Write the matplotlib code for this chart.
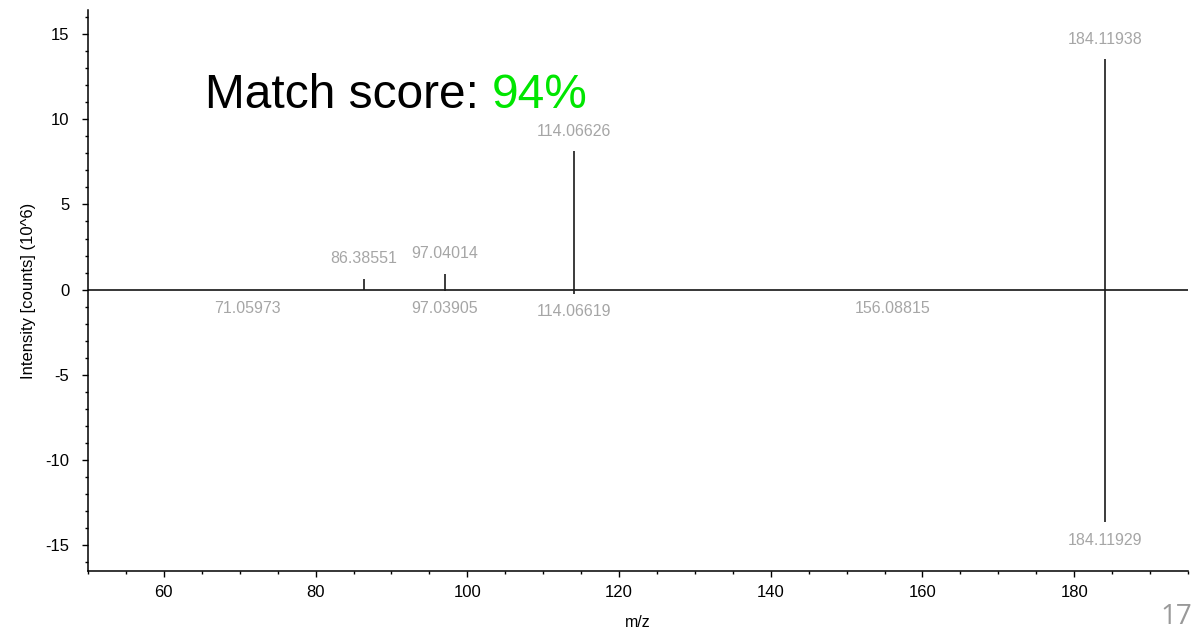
import matplotlib
matplotlib.use("Agg")
import matplotlib.pyplot as plt
from matplotlib.ticker import MultipleLocator

plt.rcParams['font.family'] = ['Liberation Sans', 'DejaVu Sans']
plt.rcParams['axes.unicode_minus'] = False

# Experimental spectrum (upper, positive) and library spectrum (lower, negative)
top_mz = [86.38551, 97.04014, 114.06626, 184.11938]
top_int = [0.63, 0.94, 8.12, 13.53]          # counts x 10^6

bottom_mz = [71.05973, 97.03905, 114.06619, 156.08815, 184.11929]
bottom_int = [-0.03, -0.05, -0.25, -0.03, -13.65]  # counts x 10^6

match_score = 94
page_number = "17"

fig = plt.figure(figsize=(11.99, 6.30), dpi=100)
ax = fig.add_axes([0.0734, 0.0937, 0.9174, 0.8903])

label_color = '#a6a6a6'
stem_color = '#1a1a1a'

ax.axhline(0, color='black', lw=1.1, zorder=2)
ax.vlines(top_mz, 0, top_int, color=stem_color, lw=1.2, zorder=3)
ax.vlines(bottom_mz, 0, bottom_int, color=stem_color, lw=1.2, zorder=3)

for mz, val in zip(top_mz, top_int):
    ax.annotate(f"{mz:.5f}", (mz, val), xytext=(0, 20), textcoords='offset pixels',
                ha='center', va='center', color=label_color, fontsize=11.5)
for mz, val in zip(bottom_mz, bottom_int):
    ax.annotate(f"{mz:.5f}", (mz, val), xytext=(0, -18), textcoords='offset pixels',
                ha='center', va='center', color=label_color, fontsize=11.5)

ax.set_xlim(50, 195)
ax.set_ylim(-16.5, 16.4)
ax.xaxis.set_major_locator(MultipleLocator(20))
ax.xaxis.set_minor_locator(MultipleLocator(5))
ax.yaxis.set_major_locator(MultipleLocator(5))
ax.yaxis.set_minor_locator(MultipleLocator(1))
ax.tick_params(which='major', direction='out', length=4.5, width=1, labelsize=12, pad=5.5)
ax.tick_params(which='minor', direction='out', length=2.2, width=1)
ax.tick_params(axis='y', which='major', pad=9)

for side in ('top', 'right'):
    ax.spines[side].set_visible(False)
for side in ('left', 'bottom'):
    ax.spines[side].set_linewidth(1.1)

ax.set_xlabel('m/z', fontsize=11.5, labelpad=11)
ax.set_ylabel('Intensity [counts] (10^6)', fontsize=12, labelpad=7)

# Match score annotation
t1 = ax.text(65.4, 10.66, 'Match score: ', fontsize=34.5, color='black', va='baseline', ha='left')
fig.canvas.draw()
bb = t1.get_window_extent()
x_end = ax.transData.inverted().transform((bb.x1, bb.y0))[0]
ax.text(x_end, 10.66, f'{match_score}%', fontsize=34.5, color='#00e600', va='baseline', ha='left')

fig.text(1192 / 1199, 1 - 617 / 630, page_number, fontsize=20, color='#999999',
         family=['Open Sans', 'DejaVu Sans'], ha='right', va='center')

fig.savefig('out.png', dpi=100)
